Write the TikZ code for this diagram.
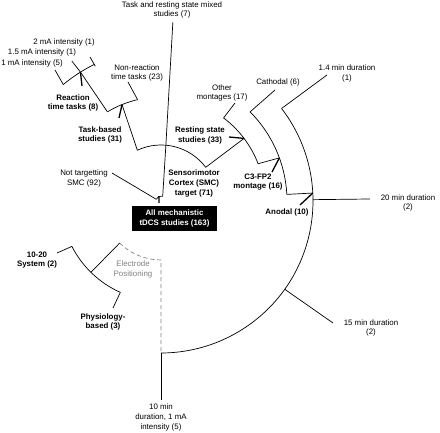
\documentclass[tikz,border=0pt]{standalone}
\usepackage{fontspec}
\setmainfont{Liberation Sans}

\begin{document}
\begin{tikzpicture}[x=1pt, y=1pt,
    lbl/.style={align=center, inner sep=0pt, font=\fontsize{7.9}{9.6}\selectfont},
    blbl/.style={align=center, inner sep=0pt, font=\fontsize{7.9}{9.6}\selectfont\bfseries},
    edge/.style={line width=0.7pt},
    ptr/.style={line width=1.3pt},
    dashedge/.style={gray, line width=0.7pt, dash pattern=on 4pt off 3pt}
]
    \useasboundingbox (-161,-232) rectangle (279,201);

    % root
    \coordinate (r1) at (160:5);
    \coordinate (r2) at (70:5);
    \coordinate (rm) at (115:5);
    \coordinate (rp) at (-2,-2);
    \node[fill=black, text=white, minimum width=85, minimum height=25, inner sep=0pt,
          align=center, font=\fontsize{7.9}{9.6}\selectfont\bfseries] (root) at (13.5,-17.5)
          {All mechanistic\\tDCS studies (163)};
    \draw[edge] (r1) arc[start angle=160, end angle=70, radius=5];
    \draw[ptr] (rp) -- (rm);

    % not targetting
    \node[lbl] (notsmc) at (-77,22.5) {Not targetting\\SMC (92)};
    \coordinate (notsmc-e) at (-49,28);
    \draw[edge] (r1) -- (notsmc-e);

    % SMC target
    \coordinate (smc) at (85:56);
    \coordinate (smc-l) at (115:56);
    \coordinate (smc-r) at (37:56);
    \node[blbl] (smclbl) at (33,17.5) {Sensorimotor\\Cortex (SMC)\\target (71)};
    \draw[edge] (r2) -- (smc);
    \draw[edge] (smc-l) arc[start angle=115, end angle=37, radius=56];

    % mixed
    \node[lbl] (mixed) at (11,191) {Task and resting state mixed\\studies (7)};
    \coordinate (mixed-e) at (86.2:179);
    \draw[edge] (smc) -- (mixed-e);

    % task-based
    \coordinate (task) at (112:104);
    \coordinate (task-l) at (121:104);
    \coordinate (task-r) at (103:104);
    \coordinate (task-p) at (-42,83);
    \node[blbl] (tasklbl) at (-61,66) {Task-based\\studies (31)};
    \draw[edge] (smc-l) -- (task);
    \draw[edge] (task-l) arc[start angle=121, end angle=103, radius=104];
    \draw[ptr] (task-p) -- (task);

    \node[lbl] (nonrt) at (-24,128) {Non-reaction\\time tasks (23)};
    \coordinate (nonrt-e) at (-33,119);
    \draw[edge] (task-r) -- (nonrt-e);

    % reaction time
    \coordinate (rt) at (122:152);
    \coordinate (rt-l) at (130:152);
    \coordinate (rt-r) at (116:150);
    \coordinate (rt-p) at (-79,115);
    \node[blbl] (rtlbl) at (-88,98) {Reaction\\time tasks (8)};
    \draw[edge] (task-l) -- (rt);
    \draw[edge] (rt-l) arc[start angle=130, end angle=116, radius=152];
    \draw[ptr] (rt-p) -- (rt);

    \node[lbl] (ma2) at (-97,159) {2 mA intensity (1)};
    \node[lbl] (ma15) at (-119,149) {1.5 mA intensity (1)};
    \node[lbl] (ma1) at (-129,138) {1 mA intensity (5)};
    \coordinate (ma2-e) at (-71,144);
    \coordinate (ma15-e) at (122.5:166);
    \coordinate (ma1-e) at (-106,131);
    \draw[edge] (rt-r) -- (ma2-e);
    \draw[edge] (rt) -- (ma15-e);
    \draw[edge] (rt-l) -- (ma1-e);

    % resting state
    \coordinate (rest) at (37:104);
    \coordinate (rest-l) at (53:104);
    \coordinate (rest-r) at (21:104);
    \coordinate (rest-p) at (68,64);
    \node[blbl] (restlbl) at (39,65.5) {Resting state\\studies (33)};
    \draw[edge] (smc-r) -- (rest);
    \draw[edge] (rest-l) arc[start angle=53, end angle=21, radius=104];
    \draw[ptr] (rest-p) -- (rest);

    \node[lbl] (other) at (61,108) {Other\\montages (17)};
    \coordinate (other-e) at (74,98);
    \draw[edge] (rest-l) -- (other-e);

    % C3-FP2
    \coordinate (c3) at (20:126);
    \coordinate (c3-l) at (45:126);
    \coordinate (c3-r) at (3:126);
    \coordinate (c3-p) at (111,29);
    \node[blbl] (c3lbl) at (97,19) {C3-FP2\\montage (16)};
    \draw[edge] (rest-r) -- (c3);
    \draw[edge] (c3-l) arc[start angle=45, end angle=3, radius=126];
    \draw[ptr] (c3-p) -- (c3);

    \node[lbl] (cath) at (117,119) {Cathodal (6)};
    \coordinate (cath-e) at (114,111);
    \draw[edge] (c3-l) -- (cath-e);

    % anodal
    \coordinate (ano) at (3:152);
    \coordinate (ano-t) at (37.5:152);
    \coordinate (ano-b) at (-90:152);
    \coordinate (ano-p) at (139,-4);
    \node[blbl] (anolbl) at (126,-11) {Anodal (10)};
    \draw[edge] (c3-r) -- (ano);
    \draw[edge] (ano-t) arc[start angle=37.5, end angle=-90, radius=152];
    \draw[ptr] (ano-p) -- (ano);

    \node[lbl] (d14) at (186,127.5) {1.4 min duration\\(1)};
    \node[lbl] (d20) at (247,-2) {20 min duration\\(2)};
    \node[lbl] (d15) at (210,-127) {15 min duration\\(2)};
    \node[lbl] (d10) at (0,-216.5) {10 min\\duration, 1 mA\\intensity (5)};
    \coordinate (d20-s) at (0.5:152);
    \coordinate (d15-s) at (-35.5:152);
    \coordinate (d14-e) at (166,126);
    \coordinate (d20-e) at (209,2);
    \coordinate (d15-e) at (172,-122);
    \coordinate (d10-e) at (0,-199);
    \draw[edge] (ano-t) -- (d14-e);
    \draw[edge] (d20-s) -- (d20-e);
    \draw[edge] (d15-s) -- (d15-e);
    \draw[edge] (ano-b) -- (d10-e);

    % electrode positioning
    \coordinate (ep) at (225.5:59);
    \coordinate (ep-b) at (270:59);
    \node[lbl, text=gray] (eplbl) at (-28,-68.5) {Electrode\\Positioning};
    \draw[dashedge] (ep) arc[start angle=225.5, end angle=270, radius=59] -- (ano-b);

    \coordinate (pos) at (225.5:100);
    \coordinate (pos-l) at (207:100);
    \coordinate (pos-r) at (246:100);
    \draw[edge] (ep) -- (pos);
    \draw[edge] (pos-l) arc[start angle=207, end angle=246, radius=100];

    \node[blbl] (sys) at (-124,-59) {10-20\\System (2)};
    \node[blbl] (phys) at (-58,-121) {Physiology-\\based (3)};
    \coordinate (sys-e) at (-104,-52);
    \coordinate (phys-e) at (-48,-107);
    \draw[edge] (pos-l) -- (sys-e);
    \draw[edge] (pos-r) -- (phys-e);
\end{tikzpicture}
\end{document}
